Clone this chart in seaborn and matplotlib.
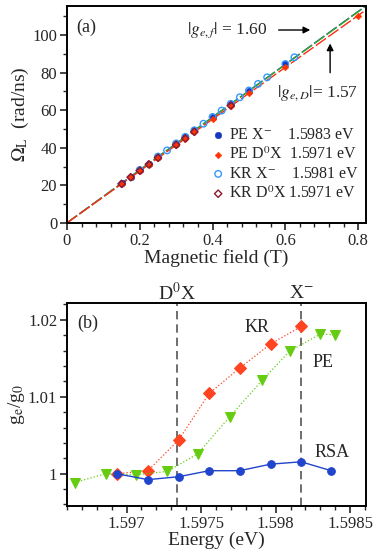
import numpy as np
import pandas as pd
import matplotlib
matplotlib.use('Agg')
import matplotlib.pyplot as plt
import seaborn as sns
from matplotlib.ticker import MultipleLocator

# ---------------- veri: (a) Larmor frekansi ----------------
b_pe_x = [0.15, 0.175, 0.2, 0.225, 0.25, 0.3, 0.325, 0.35, 0.4, 0.45, 0.5, 0.6]
om_pe_x = [21.0, 24.6, 28.2, 31.5, 35.2, 42.1, 45.6, 49.2, 56.3, 63.3, 70.4, 84.6]

b_pe_d = [0.15, 0.175, 0.2, 0.225, 0.25, 0.3, 0.325, 0.35, 0.4, 0.45, 0.5, 0.6, 0.8]
om_pe_d = [20.7, 24.2, 27.6, 31.0, 34.5, 41.4, 44.9, 48.3, 55.1, 62.1, 69.0, 82.8, 110.4]

b_kr_x = [0.2, 0.25, 0.275, 0.3, 0.325, 0.35, 0.375, 0.4, 0.425, 0.45, 0.475,
          0.5, 0.525, 0.55, 0.6, 0.625]
om_kr_x = [28.2, 35.3, 38.6, 42.3, 45.8, 49.3, 52.8, 56.4, 59.8, 63.4, 66.9,
           70.5, 74.0, 77.5, 84.6, 88.2]

b_kr_d = [0.15, 0.175, 0.2, 0.225, 0.25, 0.3, 0.325, 0.35, 0.45]
om_kr_d = [20.8, 24.3, 27.8, 31.2, 34.7, 41.6, 45.0, 48.5, 62.5]

# fit dogrulari (uc noktalar)
b_fit = [0.0, 0.82]
om_fit_x = [0.0, 115.4]
om_fit_x2 = [0.0, 115.2]
om_fit_d = [0.0, 113.2]

# ---------------- veri: (b) g-faktor orani ----------------
e_rsa = [1.596933, 1.597143, 1.597349, 1.597554, 1.597758, 1.597966, 1.598171, 1.598373]
g_rsa = [1.0, 0.99923, 0.99961, 1.00039, 1.00039, 1.00124, 1.00155, 1.00039]

e_kr = [1.596933, 1.597143, 1.597349, 1.597554, 1.597758, 1.597966, 1.598171]
g_kr = [1.0, 1.00039, 1.00438, 1.01043, 1.01373, 1.01687, 1.01914]

e_pe = [1.596651, 1.596859, 1.597065, 1.597273, 1.597476, 1.597693, 1.59791,
        1.598093, 1.598299, 1.598399]
g_pe = [0.99884, 1.0, 0.99987, 1.0003, 1.00258, 1.00742, 1.01215, 1.01592,
        1.01815, 1.01807]

e_lines = [1.597338, 1.598171]
line_labels = ['D$^0$X', 'X$^{-}$']

sns.set_style('ticks')
plt.rcParams['font.family'] = ['Liberation Serif', 'DejaVu Serif']
plt.rcParams['mathtext.fontset'] = 'stix'
plt.rcParams['xtick.direction'] = 'out'
plt.rcParams['ytick.direction'] = 'out'

fig = plt.figure(figsize=(3.74, 5.6), dpi=100)
ax1 = fig.add_axes([0.179, 0.602, 0.800, 0.387])
ax2 = fig.add_axes([0.179, 0.0964, 0.800, 0.3626])

# ---- panel (a) ----
dash = (0, (9, 2))
sns.lineplot(x=b_fit, y=om_fit_x, ax=ax1, color='#1a3cc8', lw=1.0, linestyle=dash)
sns.lineplot(x=b_fit, y=om_fit_x2, ax=ax1, color='#33aa22', lw=1.0, linestyle=dash)
sns.lineplot(x=b_fit, y=om_fit_d, ax=ax1, color='#ff2a10', lw=1.0, linestyle=dash)

sns.scatterplot(x=b_pe_x, y=om_pe_x, ax=ax1, marker='o', s=22, color='#1637c0',
                edgecolor='#1637c0', label='PE X$^{-}$    1.5983 eV', zorder=3)
sns.scatterplot(x=b_pe_d, y=om_pe_d, ax=ax1, marker='D', s=12, color='#ff3300',
                edgecolor='#ff3300', label='PE D$^0$X  1.5971 eV', zorder=4)
sns.scatterplot(x=b_kr_x, y=om_kr_x, ax=ax1, marker='o', s=22, facecolor='none',
                edgecolor='#3399ff', linewidth=1.0, label='KR X$^{-}$    1.5981 eV', zorder=3)
sns.scatterplot(x=b_kr_d, y=om_kr_d, ax=ax1, marker='D', s=14, facecolor='none',
                edgecolor='#8b1a2e', linewidth=1.0, label='KR D$^0$X 1.5971 eV', zorder=4)

ax1.set_xlim(0, 0.822)
ax1.set_ylim(0, 115.4)
ax1.xaxis.set_major_locator(MultipleLocator(0.2))
ax1.xaxis.set_minor_locator(MultipleLocator(0.04))
ax1.yaxis.set_major_locator(MultipleLocator(20))
ax1.yaxis.set_minor_locator(MultipleLocator(10))
ax1.xaxis.set_major_formatter(plt.FuncFormatter(lambda v, p: f'{v:g}'))
ax1.set_xlabel('Magnetic field (T)', fontsize=14, labelpad=0)
ax1.set_ylabel(r'$\Omega_{\rm L}$  (rad/ns)', fontsize=14, labelpad=1)
ax1.text(0.03, 0.94, '(a)', transform=ax1.transAxes, fontsize=13, va='top')

ax1.annotate('', xy=(0.676, 102.7), xytext=(0.574, 102.7),
             arrowprops=dict(arrowstyle='-|>', color='black', lw=1.0, mutation_scale=10))
ax1.text(0.330, 102.7, r'$|g_{e,f}|$ = 1.60', fontsize=12.5, va='center', ha='left')
ax1.annotate('', xy=(0.723, 97.0), xytext=(0.723, 78.5),
             arrowprops=dict(arrowstyle='-|>', color='black', lw=1.0, mutation_scale=10))
ax1.text(0.578, 69.1, r'$|g_{e,D}|$= 1.57', fontsize=12.5, va='center', ha='left')

leg = ax1.legend(loc='lower right', frameon=False, fontsize=11.5, handletextpad=0.05,
                 labelspacing=0.2, borderaxespad=0.1, handlelength=1.2,
                 bbox_to_anchor=(1.0, 0.06))

# ---- panel (b) ----
sns.lineplot(x=e_kr, y=g_kr, ax=ax2, color='#ff4422', lw=0.9, linestyle=':',
             marker='D', markersize=6, markeredgecolor='#ff4422', zorder=3)
sns.lineplot(x=e_pe, y=g_pe, ax=ax2, color='#66cc11', lw=0.9, linestyle=':',
             marker='v', markersize=6.5, markeredgecolor='#66cc11', zorder=3)
sns.lineplot(x=e_rsa, y=g_rsa, ax=ax2, color='#2045cc', lw=1.0, linestyle='-',
             marker='o', markersize=5.5, markeredgecolor='#2045cc', zorder=4)

for e, lab in zip(e_lines, line_labels):
    ax2.axvline(e, color='#555555', lw=1.2, linestyle=(0, (5, 3)), zorder=1)
    ax2.text(e, 1.049, lab, transform=ax2.get_xaxis_transform(), ha='center',
             va='center', fontsize=14)

ax2.set_xlim(1.5966, 1.598607)
ax2.set_ylim(0.9958, 1.0222)
ax2.xaxis.set_major_locator(MultipleLocator(0.0005))
ax2.xaxis.set_minor_locator(MultipleLocator(0.0001))
ax2.yaxis.set_major_locator(MultipleLocator(0.01))
ax2.yaxis.set_minor_locator(MultipleLocator(0.002))
ax2.xaxis.set_major_formatter(plt.FuncFormatter(lambda v, p: f'{v:.4f}'.rstrip('0')))
ax2.yaxis.set_major_formatter(plt.FuncFormatter(lambda v, p: f'{v:.2f}'.rstrip('0').rstrip('.')))
ax2.set_xlabel('Energy (eV)', fontsize=14, labelpad=0)
ax2.set_ylabel(r'g$_{\rm e}$/g$_0$', fontsize=14, labelpad=1)
ax2.text(0.033, 0.90, '(b)', transform=ax2.transAxes, fontsize=13, va='center')
ax2.text(1.597874, 1.01897, 'KR', fontsize=13, ha='center', va='center')
ax2.text(1.598321, 1.01447, 'PE', fontsize=13, ha='center', va='center')
ax2.text(1.598377, 1.0027, 'RSA', fontsize=13, ha='center', va='center')

for ax in (ax1, ax2):
    for s in ax.spines.values():
        s.set_linewidth(1.4)
        s.set_color('black')
    ax.tick_params(which='major', length=5, width=1.2, labelsize=12, pad=2)
    ax.tick_params(which='minor', length=3, width=1.0)

fig.savefig('out.png', dpi=100)
